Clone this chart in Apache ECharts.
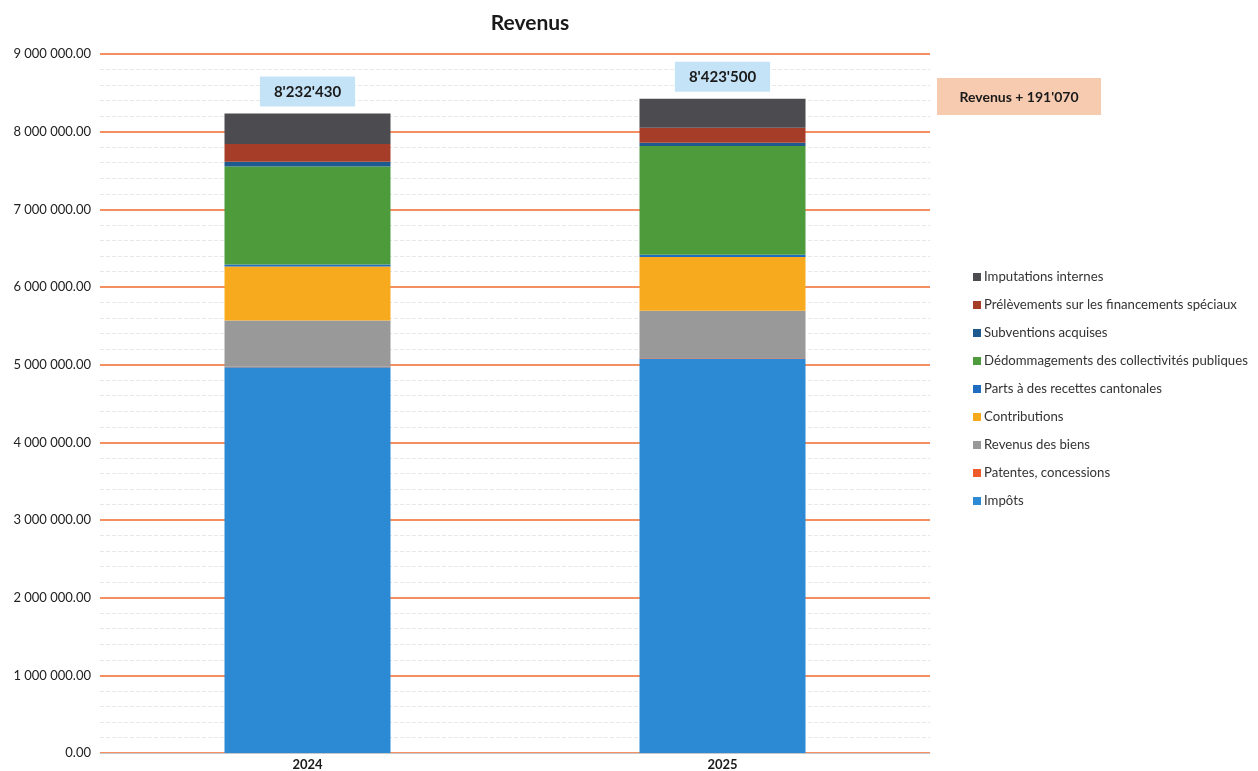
<!DOCTYPE html>
<html>
<head>
<meta charset="utf-8">
<script src="https://cdn.jsdelivr.net/npm/echarts@6/dist/echarts.min.js"></script>
<style>
html,body{margin:0;padding:0;background:#fff;}
#chart{width:1258px;height:771px;}
</style>
</head>
<body>
<div id="chart"></div>
<script>
const categories = ['2024', '2025'];
const seriesNames = [
  'Impôts',
  'Patentes, concessions',
  'Revenus des biens',
  'Contributions',
  'Parts à des recettes cantonales',
  'Dédommagements des collectivités publiques',
  'Subventions acquises',
  'Prélèvements sur les financements spéciaux',
  'Imputations internes'
];
const impots = [4968000, 5080000];
const patentes = [5000, 5000];
const revenusBiens = [596000, 608000];
const contributions = [695000, 692000];
const parts = [25000, 30000];
const dedommagements = [1262000, 1400000];
const subventions = [62000, 42000];
const prelevements = [228000, 195000];
const imputations = [391430, 371500];
const totalLabels = ["8'232'430", "8'423'500"];
const diffLabel = "Revenus + 191'070";
const yTicks = { min: 0, max: 9000000, interval: 1000000 };

const colors = ['#2b8ad3', '#ee5a2a', '#999999', '#f7aa1e', '#1f6cc0', '#4e9b3c', '#1f5a8e', '#a63d28', '#4b4b50'];
const seriesData = [impots, patentes, revenusBiens, contributions, parts, dedommagements, subventions, prelevements, imputations];

const FONT = 'Lato, "Open Sans", sans-serif';

function fmt(v) {
  const s = Math.round(v).toString().replace(/\B(?=(\d{3})+(?!\d))/g, ' ');
  return s + '.00';
}

const series = seriesNames.map((name, i) => {
  const s = {
    name: name,
    type: 'bar',
    stack: 'total',
    barWidth: '40%',
    data: seriesData[i],
    itemStyle: { color: colors[i] }
  };
  if (i === seriesNames.length - 1) {
    s.label = {
      show: true,
      position: 'top',
      distance: 7,
      formatter: p => totalLabels[p.dataIndex],
      backgroundColor: '#c5e3f7',
      padding: [8, 14, 7, 14],
      color: '#1a1a1a',
      fontWeight: 'bold',
      fontSize: 15,
      fontFamily: FONT
    };
  }
  return s;
});

const chart = echarts.init(document.getElementById('chart'));
chart.setOption({
  backgroundColor: '#ffffff',
  animation: false,
  title: {
    text: 'Revenus',
    left: 525,
    top: 8,
    textAlign: 'center',
    textStyle: { fontFamily: FONT, fontWeight: 'bold', fontSize: 21, color: '#1a1a1a' }
  },
  legend: {
    orient: 'vertical',
    left: 968,
    top: 264,
    itemGap: 12,
    itemWidth: 8,
    itemHeight: 8,
    icon: 'rect',
    data: seriesNames.slice().reverse(),
    textStyle: { fontFamily: FONT, fontSize: 13.2, color: '#333', padding: [0, 0, 0, -2], lineHeight: 16 }
  },
  grid: { left: 100, right: 328, top: 54, bottom: 18, containLabel: false },
  xAxis: {
    type: 'category',
    data: categories,
    axisLine: { show: true, lineStyle: { color: '#c8c8c8', width: 1 } },
    axisTick: { show: false },
    axisLabel: { fontFamily: FONT, fontWeight: 'bold', fontSize: 13, color: '#1a1a1a', margin: 5 }
  },
  yAxis: {
    type: 'value',
    min: yTicks.min,
    max: yTicks.max,
    interval: yTicks.interval,
    axisLine: { show: false },
    axisTick: { show: false },
    axisLabel: { formatter: fmt, fontFamily: FONT, fontSize: 13, color: '#222', margin: 9 },
    splitLine: { show: true, lineStyle: { color: '#ef6a2c', width: 1.5 } },
    minorTick: { show: false, splitNumber: 5 },
    minorSplitLine: { show: true, lineStyle: { color: '#e8e8e8', width: 1, type: 'dashed' } }
  },
  graphic: [
    {
      type: 'group',
      left: 937,
      top: 78,
      children: [
        { type: 'rect', shape: { x: 0, y: 0, width: 164, height: 37 }, style: { fill: '#f7cbb0' } },
        { type: 'text', x: 82, y: 19, style: { text: diffLabel, align: 'center', verticalAlign: 'middle', fontFamily: FONT, fontWeight: 'bold', fontSize: 14, fill: '#1a1a1a' } }
      ]
    }
  ],
  series: series
});
</script>
</body>
</html>
